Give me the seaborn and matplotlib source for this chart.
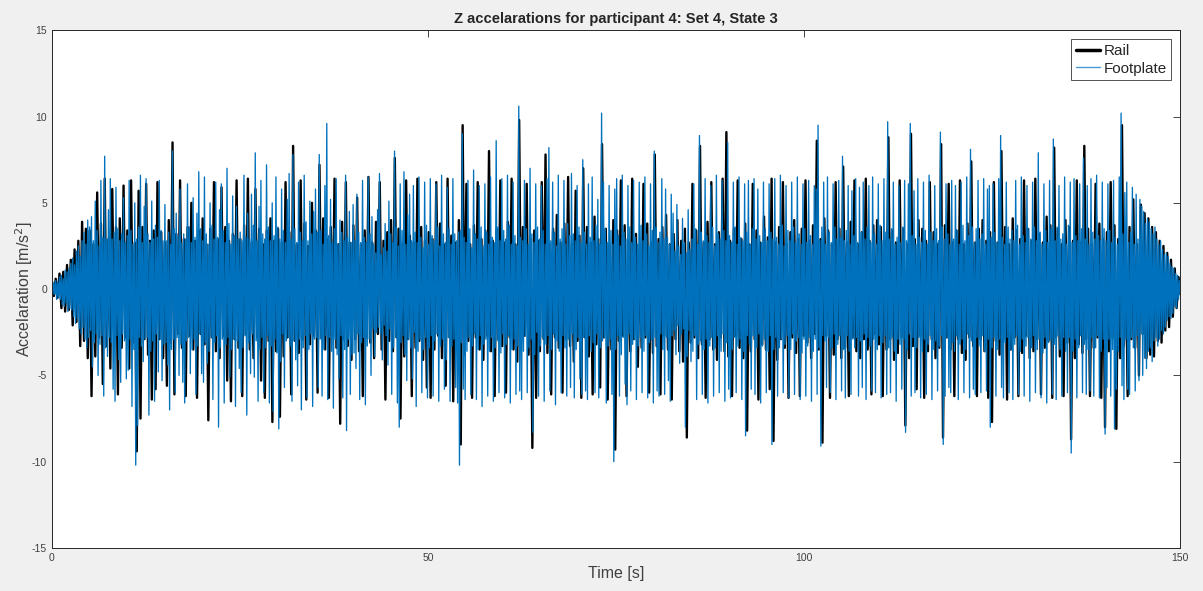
import numpy as np
import matplotlib
matplotlib.use("Agg")
import matplotlib.pyplot as plt
import seaborn as sns

# Rail acceleration, successive half-cycle peaks (m/s^2), 4 per second
rail = [
    0.2, -0.4, 0.6, -0.5, 0.9, -1.1, 1.0, -1.3, 1.4, -1.2, 1.7, -2.1, 2.3, -1.9, 2.8, -3.3, 3.9, -3.0, 3.5, -4.0,
    3.4, -6.2, 2.6, -3.9, 5.6, -2.8, 3.8, -5.5, 6.4, -3.3, 2.9, -4.6, 5.8, -2.7, 3.6, -6.1, 4.1, -3.4, 6.0, -2.8,
    3.4, -4.6, 6.3, -3.1, 2.7, -9.4, 5.7, -7.5, 3.6, -2.9, 6.1, -3.8, 2.8, -6.4, 3.4, -5.8, 6.2, -2.9, 3.3, -4.0,
    2.7, -5.6, 4.0, -3.1, 8.5, -6.1, 3.2, -2.6, 6.3, -3.4, 2.9, -6.2, 3.6, -2.7, 5.0, -3.5, 2.8, -6.3, 3.4, -2.6,
    4.1, -3.2, 2.6, -7.6, 3.5, -2.8, 6.2, -3.6, 2.9, -4.0, 5.9, -2.7, 3.6, -5.3, 2.8, -6.5, 3.2, -2.9, 6.3, -3.4,
    2.9, -6.2, 3.7, -2.6, 6.4, -3.5, 2.7, -4.0, 5.8, -2.8, 3.5, -5.3, 2.6, -6.3, 3.4, -3.0, 4.1, -7.7, 2.8, -3.6,
    3.5, -7.4, 2.7, -3.9, 6.2, -2.8, 3.3, -6.1, 8.3, -3.0, 2.6, -3.7, 6.3, -2.9, 3.8, -6.4, 2.5, -3.2, 5.0, -2.7,
    3.4, -6.0, 7.2, -2.8, 4.1, -3.5, 2.9, -6.3, 3.6, -2.7, 6.4, -3.4, 2.6, -7.8, 3.9, -2.9, 6.2, -3.3, 2.7, -4.1,
    3.7, -2.9, 5.3, -3.6, 2.6, -6.2, 3.4, -2.8, 6.5, -3.1, 2.7, -4.0, 3.9, -2.6, 6.2, -3.5, 2.8, -6.4, 3.3, -3.0,
    4.0, -3.6, 7.6, -2.8, 3.5, -7.5, 2.6, -3.9, 6.3, -2.9, 3.1, -6.2, 2.7, -3.4, 6.4, -3.0, 3.6, -4.1, 2.8, -5.7,
    3.3, -6.3, 2.9, -3.5, 6.2, -2.7, 3.8, -4.0, 2.6, -5.6, 6.4, -2.8, 3.1, -6.5, 2.7, -3.3, 4.0, -9.0, 9.5, -3.8,
    6.1, -3.0, 2.6, -6.3, 3.7, -2.8, 6.2, -3.5, 2.9, -4.1, 3.4, -2.7, 8.0, -3.6, 2.8, -6.2, 3.5, -2.9, 6.3, -3.3,
    2.7, -6.0, 3.9, -2.8, 6.4, -3.5, 2.6, -4.2, 9.8, -3.1, 3.6, -2.7, 6.1, -3.8, 2.9, -9.2, 3.4, -6.3, 2.8, -3.6,
    6.2, -2.9, 7.8, -3.7, 2.6, -6.1, 3.5, -2.8, 4.3, -3.4, 2.7, -6.0, 3.8, -2.9, 6.5, -3.3, 2.6, -4.2, 5.7, -3.0,
    3.1, -6.3, 7.0, -2.8, 3.6, -3.9, 2.7, -6.1, 4.2, -3.2, 2.9, -5.7, 8.4, -2.8, 3.5, -6.4, 2.6, -3.5, 4.0, -9.3,
    3.4, -3.0, 6.3, -2.7, 3.7, -6.2, 2.8, -3.6, 6.4, -2.9, 3.2, -4.5, 2.6, -3.4, 6.1, -2.8, 3.8, -6.0, 2.7, -3.7,
    7.8, -3.3, 2.9, -6.1, 3.6, -2.7, 4.3, -3.5, 2.6, -6.4, 3.2, -2.9, 4.0, -3.6, 2.8, -4.2, 3.5, -8.6, 2.7, -3.1,
    6.1, -2.8, 3.4, -4.0, 8.3, -3.2, 2.7, -6.3, 3.9, -2.9, 6.2, -3.5, 2.6, -4.1, 3.3, -2.8, 6.4, -3.6, 9.1, -3.9,
    2.8, -6.2, 3.5, -2.7, 6.3, -3.4, 2.9, -4.0, 3.8, -8.2, 2.6, -3.6, 6.1, -2.9, 3.4, -6.4, 2.7, -3.2, 4.2, -3.5,
    3.0, -5.8, 6.4, -8.8, 2.7, -4.1, 3.6, -2.9, 6.2, -3.4, 2.6, -6.3, 3.3, -2.8, 4.0, -3.7, 2.9, -6.2, 3.5, -2.7,
    6.3, -3.1, 2.8, -4.0, 3.7, -2.6, 8.6, -3.5, 2.9, -8.9, 4.1, -2.7, 3.4, -6.3, 2.6, -3.8, 6.2, -2.9, 3.5, -4.0,
    7.1, -3.4, 2.7, -6.2, 3.9, -2.8, 6.3, -3.6, 2.6, -4.0, 3.3, -2.9, 6.4, -3.5, 2.8, -6.1, 3.7, -2.6, 4.0, -3.2,
    3.6, -6.2, 2.8, -3.5, 8.8, -2.9, 3.4, -4.1, 2.7, -3.7, 6.3, -2.8, 3.5, -7.9, 2.6, -4.0, 9.0, -3.3, 2.9, -5.8,
    4.0, -2.7, 3.5, -6.3, 2.8, -3.6, 6.2, -2.9, 3.3, -4.0, 2.6, -3.4, 8.4, -8.6, 3.7, -2.8, 6.1, -3.5, 2.7, -6.2,
    3.4, -2.9, 6.3, -3.7, 2.6, -4.1, 3.8, -2.8, 7.4, -3.3, 2.7, -6.2, 3.5, -2.9, 4.0, -3.6, 2.8, -6.3, 3.3, -7.7,
    6.2, -3.0, 2.7, -3.8, 8.0, -2.9, 3.6, -6.4, 2.6, -3.5, 4.1, -2.8, 3.4, -6.2, 2.9, -3.7, 6.3, -2.7, 3.5, -4.0,
    2.8, -3.6, 6.4, -2.9, 3.2, -6.1, 2.7, -3.4, 4.2, -3.0, 3.7, -6.3, 8.2, -2.8, 3.5, -3.9, 2.6, -6.2, 4.0, -3.1,
    3.6, -8.7, 2.8, -4.0, 6.3, -3.2, 2.7, -3.7, 8.3, -2.9, 3.5, -6.2, 2.6, -3.4, 6.1, -2.8, 3.8, -6.3, 2.9, -8.0,
    3.3, -3.6, 6.2, -2.8, 3.7, -8.1, 2.9, -4.0, 9.5, -3.3, 2.7, -6.2, 3.6, -2.9, 5.2, -3.4, 2.6, -5.0, 4.9, -2.6,
    4.4, -4.0, 4.1, -3.8, 3.6, -3.9, 3.3, -3.0, 2.8, -3.1, 2.5, -2.4, 2.1, -2.2, 1.7, -1.6, 1.2, -1.1, 0.7, -0.3,
]

# Footplate acceleration, successive half-cycle peaks (m/s^2), 8 per second
footplate = [
    0.2, -0.3, 0.4, -0.3, 0.5, -0.6, 0.4, -0.5, 0.7, -0.6, 0.8, -0.9, 0.6, -1.0, 1.1, -0.8, 1.0, -1.3, 1.2, -1.1,
    1.5, -1.2, 1.8, -1.6, 1.4, -2.0, 2.2, -1.7, 2.5, -2.3, 1.9, -2.6, 2.8, -2.2, 3.3, -2.9, 2.6, -3.4, 4.0, -2.8,
    3.6, -2.4, 4.2, -4.5, 2.8, -3.1, 5.1, -2.6, 3.4, -5.0, 2.5, -3.2, 6.3, -2.7, 3.0, -6.2, 7.7, -3.4, 2.9, -3.9,
    4.6, -2.8, 6.4, -3.1, 2.9, -5.8, 3.3, -6.5, 5.9, -2.7, 3.5, -4.1, 2.8, -5.4, 3.2, -2.6, 5.3, -3.0, 2.7, -5.2,
    3.1, -4.7, 6.3, -2.9, 3.4, -6.8, 2.6, -3.5, 5.0, -10.2, 2.9, -7.9, 3.6, -2.8, 6.6, -3.3, 2.7, -4.2, 4.8, -2.9,
    6.4, -2.8, 3.2, -7.3, 2.7, -3.6, 5.1, -3.0, 2.9, -6.5, 3.7, -2.6, 3.0, -4.8, 6.3, -2.9, 3.4, -5.3, 2.8, -3.2,
    4.9, -3.1, 2.8, -4.4, 3.3, -7.0, 2.6, -3.5, 8.0, -2.9, 3.5, -6.0, 4.4, -2.8, 3.1, -5.0, 5.8, -3.2, 2.7, -5.4,
    3.2, -6.6, 2.9, -3.0, 6.1, -2.8, 3.6, -4.9, 2.7, -3.5, 5.3, -2.9, 3.0, -6.1, 4.4, -3.3, 6.8, -2.6, 3.5, -4.9,
    2.8, -5.4, 6.5, -3.1, 3.2, -4.3, 2.6, -3.6, 5.0, -2.8, 3.7, -6.4, 2.9, -3.1, 6.2, -2.7, 3.0, -8.0, 4.6, -3.4,
    6.1, -2.9, 3.4, -6.6, 2.7, -3.2, 7.0, -2.8, 3.8, -5.1, 2.6, -3.5, 5.4, -2.9, 3.1, -6.8, 4.8, -3.0, 2.9, -4.6,
    3.3, -6.0, 2.8, -3.4, 6.6, -2.7, 3.0, -7.3, 4.4, -3.1, 2.9, -4.9, 5.5, -2.6, 3.7, -5.1, 7.9, -3.0, 2.8, -6.5,
    4.8, -3.5, 6.3, -2.8, 3.2, -6.0, 2.9, -3.4, 7.2, -2.7, 3.6, -6.6, 2.8, -3.3, 5.0, -7.1, 3.1, -2.9, 6.5, -3.7,
    3.6, -8.1, 2.9, -4.2, 5.8, -2.6, 3.4, -5.7, 2.7, -3.0, 5.2, -2.8, 6.7, -3.3, 2.9, -6.5, 7.8, -3.0, 3.5, -4.1,
    2.7, -5.6, 6.2, -2.9, 3.3, -7.0, 2.8, -3.4, 6.6, -2.7, 3.9, -6.3, 2.8, -3.5, 5.1, -2.6, 3.2, -6.8, 4.5, -2.9,
    5.8, -2.8, 3.3, -5.7, 7.8, -2.9, 3.4, -6.2, 2.6, -3.5, 6.0, -2.7, 9.6, -6.4, 3.1, -2.8, 5.2, -3.6, 2.7, -6.9,
    3.5, -2.9, 6.4, -3.8, 2.6, -5.2, 4.0, -2.7, 3.3, -6.3, 2.8, -3.5, 6.6, -8.2, 3.0, -2.9, 4.5, -6.1, 2.7, -3.8,
    4.9, -3.7, 2.8, -4.6, 5.5, -2.6, 3.3, -6.4, 2.7, -3.1, 6.3, -2.8, 3.0, -6.7, 2.7, -3.3, 6.5, -2.9, 3.2, -5.0,
    4.2, -2.3, 2.6, -3.9, 2.1, -2.5, 4.6, -2.2, 6.7, -2.6, 2.0, -4.1, 2.4, -2.1, 3.8, -2.7, 2.2, -4.4, 5.1, -2.3,
    3.2, -6.1, 2.7, -3.4, 8.0, -2.8, 3.6, -6.6, 2.5, -8.0, 6.1, -3.1, 3.4, -2.7, 6.8, -3.8, 2.6, -5.3, 4.3, -2.9,
    5.5, -3.4, 2.8, -5.2, 6.0, -2.5, 3.3, -6.8, 2.7, -3.6, 6.5, -2.9, 3.0, -6.0, 2.4, -3.5, 6.2, -2.8, 3.7, -6.3,
    2.6, -3.4, 6.4, -2.7, 3.1, -6.2, 2.8, -3.0, 6.1, -2.6, 3.6, -6.5, 2.5, -3.3, 6.6, -2.9, 3.2, -5.8, 2.7, -4.1,
    5.9, -2.8, 3.5, -6.5, 2.6, -3.3, 6.4, -2.9, 3.2, -5.7, 2.8, -6.6, 3.3, -10.2, 3.4, -3.1, 9.0, -5.8, 3.0, -6.4,
    2.7, -3.6, 6.3, -2.8, 3.5, -6.1, 2.4, -3.3, 6.9, -2.6, 3.2, -6.4, 2.9, -3.5, 6.0, -2.7, 3.6, -6.8, 2.5, -3.2,
    6.1, -2.9, 3.3, -6.2, 2.6, -3.6, 6.5, -2.8, 3.0, -6.5, 2.7, -3.4, 8.6, -3.0, 3.6, -6.0, 2.8, -3.7, 6.4, -2.6,
    3.4, -6.3, 2.9, -3.2, 6.6, -2.7, 3.7, -6.6, 2.6, -3.5, 6.2, -2.9, 3.1, -6.1, 2.5, -3.3, 10.6, -5.9, 3.0, -6.4,
    2.8, -3.6, 6.3, -2.7, 3.5, -6.0, 2.6, -3.4, 7.0, -2.9, 3.2, -8.3, 2.7, -3.8, 6.1, -2.5, 3.6, -6.2, 2.9, -3.3,
    6.0, -2.8, 3.4, -6.5, 2.6, -3.2, 6.4, -2.7, 8.2, -5.9, 2.8, -3.5, 6.2, -2.6, 3.3, -6.7, 2.5, -3.0, 6.6, -3.6,
    2.9, -6.0, 3.5, -2.7, 6.3, -3.4, 2.6, -6.2, 3.8, -2.9, 3.1, -5.7, 6.7, -2.6, 3.2, -6.3, 2.8, -3.5, 6.0, -2.8,
    3.6, -5.2, 2.7, -6.1, 7.5, -2.8, 3.3, -5.9, 2.6, -6.4, 6.1, -2.7, 3.0, -3.6, 6.5, -3.1, 2.8, -6.0, 3.7, -2.6,
    5.2, -6.3, 2.6, -3.4, 10.2, -3.0, 6.2, -2.8, 3.5, -6.6, 2.7, -3.3, 6.0, -2.9, 3.4, -6.1, 2.6, -10.0, 5.8, -3.5,
    6.4, -2.7, 3.1, -6.2, 2.5, -3.8, 6.6, -2.8, 3.3, -5.5, 2.9, -6.7, 6.0, -2.6, 3.6, -5.9, 2.7, -3.2, 6.3, -2.9,
    3.0, -6.4, 2.6, -3.3, 6.2, -2.8, 3.7, -6.0, 2.8, -3.6, 6.5, -2.7, 3.2, -6.3, 2.5, -3.1, 6.1, -2.9, 3.4, -6.6,
    8.0, -2.8, 3.6, -5.9, 2.7, -6.2, 3.3, -2.6, 6.4, -3.5, 2.9, -6.1, 5.8, -2.8, 3.0, -5.3, 2.6, -6.5, 5.5, -2.7,
    4.4, -2.4, 2.2, -3.8, 4.9, -2.1, 2.5, -4.3, 2.0, -2.6, 4.1, -2.3, 2.7, -8.0, 2.1, -3.9, 4.6, -2.4, 2.3, -4.2,
    2.9, -3.6, 6.1, -2.7, 3.5, -6.4, 2.6, -3.2, 8.9, -3.0, 3.3, -6.1, 2.8, -3.5, 6.4, -2.9, 3.1, -6.6, 2.7, -3.3,
    6.0, -2.8, 3.6, -6.2, 2.5, -3.4, 6.6, -2.7, 3.2, -6.0, 2.9, -3.6, 6.3, -2.6, 3.4, -6.5, 2.8, -3.1, 8.5, -5.8,
    3.1, -6.3, 2.7, -3.5, 6.2, -2.8, 3.6, -6.0, 2.6, -3.3, 6.5, -2.9, 3.0, -6.4, 2.8, -3.6, 6.1, -8.5, 3.3, -2.7,
    6.3, -3.2, 2.6, -5.8, 3.5, -2.7, 6.4, -6.1, 2.9, -3.4, 5.8, -2.6, 3.1, -6.6, 2.7, -3.3, 6.2, -2.9, 3.5, -6.0,
    2.8, -3.6, 6.1, -2.7, 3.3, -9.0, 2.9, -3.5, 6.4, -2.8, 3.0, -6.2, 2.6, -3.4, 6.6, -2.9, 3.7, -6.0, 2.5, -3.2,
    6.0, -2.7, 3.4, -6.3, 2.8, -3.5, 6.2, -2.6, 3.6, -6.1, 2.7, -3.0, 6.5, -2.8, 3.2, -6.4, 2.6, -3.7, 6.1, -2.9,
    3.5, -6.2, 2.7, -3.3, 6.3, -2.8, 3.1, -6.5, 2.6, -3.6, 6.0, -2.9, 5.8, -6.1, 9.5, -3.4, 2.8, -9.1, 3.6, -2.7,
    6.2, -3.0, 2.6, -5.7, 6.5, -2.8, 3.3, -6.0, 2.7, -3.4, 6.1, -2.6, 3.6, -6.4, 2.9, -3.2, 6.3, -2.7, 3.0, -5.9,
    7.7, -3.5, 2.8, -6.3, 3.4, -2.7, 6.0, -3.6, 2.6, -6.1, 5.7, -2.9, 3.1, -3.4, 6.4, -2.8, 2.7, -6.2, 5.9, -3.0,
    3.3, -5.7, 6.2, -2.6, 2.9, -6.4, 3.6, -2.8, 6.0, -3.3, 2.7, -5.9, 6.5, -2.9, 3.2, -6.0, 2.6, -3.5, 6.1, -2.7,
    3.7, -6.3, 2.8, -3.1, 6.4, -2.7, 3.3, -6.1, 9.7, -3.4, 2.9, -6.0, 3.5, -2.8, 6.2, -3.6, 2.6, -6.5, 3.0, -2.9,
    6.0, -3.2, 2.7, -5.8, 3.6, -2.9, 6.3, -8.3, 2.8, -3.5, 6.1, -2.6, 9.6, -6.2, 3.1, -2.8, 5.7, -6.0, 2.6, -3.4,
    6.4, -2.8, 3.0, -6.3, 2.7, -3.6, 6.2, -2.9, 3.4, -6.1, 2.6, -3.2, 6.6, -2.7, 3.3, -6.4, 2.8, -3.5, 6.0, -3.0,
    3.5, -5.9, 2.8, -3.3, 9.1, -2.7, 3.6, -9.0, 2.9, -6.2, 6.1, -2.8, 3.2, -5.7, 2.6, -6.0, 6.3, -3.1, 2.9, -3.6,
    6.0, -2.7, 3.4, -6.4, 2.6, -3.2, 6.2, -2.9, 3.7, -6.0, 2.8, -3.5, 6.5, -2.6, 3.1, -6.3, 8.1, -3.0, 3.6, -5.8,
    2.7, -6.1, 3.5, -2.8, 6.3, -3.3, 2.9, -6.0, 3.2, -2.7, 6.4, -3.6, 2.6, -5.9, 5.8, -2.9, 6.0, -8.0, 3.0, -3.4,
    6.1, -2.8, 3.3, -6.2, 2.7, -3.5, 6.4, -2.9, 8.9, -5.7, 3.0, -6.3, 2.6, -3.1, 6.2, -2.8, 3.6, -6.0, 2.9, -3.5,
    3.4, -6.4, 2.8, -3.2, 6.3, -2.7, 3.7, -6.1, 2.6, -3.6, 6.5, -2.9, 3.1, -6.2, 2.7, -3.3, 6.0, -2.8, 3.5, -6.5,
    2.9, -3.4, 6.2, -2.7, 3.6, -6.0, 2.8, -3.5, 7.9, -2.9, 3.3, -6.3, 2.6, -3.7, 6.1, -2.8, 3.4, -6.6, 2.7, -3.1,
    6.3, -2.9, 3.5, -6.1, 8.7, -3.2, 2.8, -6.4, 3.6, -2.7, 6.0, -3.5, 2.9, -6.2, 3.2, -2.8, 6.5, -3.6, 2.6, -6.0,
    3.7, -2.8, 6.2, -9.5, 2.7, -3.6, 6.4, -2.9, 3.1, -6.3, 2.8, -3.4, 6.1, -2.7, 3.5, -6.0, 7.6, -3.2, 2.9, -6.1,
    6.0, -3.5, 2.6, -5.9, 6.4, -2.8, 3.3, -6.2, 2.9, -3.4, 6.6, -2.7, 3.1, -6.3, 2.8, -3.6, 6.2, -2.9, 3.5, -8.4,
    2.8, -5.7, 6.1, -2.9, 3.4, -6.2, 2.7, -3.5, 6.3, -8.1, 3.0, -5.8, 2.6, -3.6, 6.5, -2.8, 10.2, -5.6, 3.2, -6.4,
    5.6, -2.9, 6.2, -5.8, 2.7, -6.1, 3.3, -2.8, 5.9, -3.4, 2.6, -5.9, 5.5, -2.7, 2.9, -5.3, 5.2, -2.6, 4.8, -5.0,
    4.5, -4.0, 3.8, -4.6, 4.1, -3.6, 3.9, -3.4, 3.5, -4.2, 3.2, -3.0, 3.6, -2.8, 2.9, -3.3, 2.6, -2.9, 2.8, -2.4,
    2.3, -2.6, 2.0, -2.2, 2.1, -1.8, 1.9, -1.6, 1.5, -1.7, 1.3, -1.4, 1.2, -1.0, 0.9, -1.1, 0.8, -0.6, 0.5, -0.3,
]

t_rail = np.linspace(0, 150, len(rail))
t_foot = np.linspace(0, 150, len(footplate))

sns.set_style("white")
plt.rcParams["font.family"] = ["Liberation Sans", "DejaVu Sans"]
plt.rcParams["axes.unicode_minus"] = False

fig = plt.figure(figsize=(12.03, 5.91), dpi=100)
fig.patch.set_facecolor("#f0f0f0")
ax = fig.add_axes([0.0432, 0.0728, 0.938, 0.876])
ax.set_facecolor("white")

sns.lineplot(x=t_rail, y=rail, ax=ax, color="black", linewidth=1.7,
             label="Rail", sort=False, estimator=None)
sns.lineplot(x=t_foot, y=footplate, ax=ax, color="#0072BD", linewidth=0.95,
             label="Footplate", sort=False, estimator=None)

ax.set_xlim(0, 150)
ax.set_ylim(-15, 15)
ax.set_xticks([0, 50, 100, 150])
ax.set_yticks([-15, -10, -5, 0, 5, 10, 15])
ax.tick_params(direction="in", length=5, width=0.6, colors="#262626",
               labelsize=7.5, top=True, right=True, labelcolor="#404040")

for s in ax.spines.values():
    s.set_color("#262626")
    s.set_linewidth(0.7)

ax.set_title("Z accelarations for participant 4: Set 4, State 3",
             fontsize=10.6, fontweight="bold", pad=5)
ax.set_xlabel("Time [s]", fontsize=11.5, color="#404040", labelpad=2)
ax.set_ylabel("Accelaration [m/s$^2$]", fontsize=11.5, color="#404040", labelpad=-2)

leg = ax.legend(loc="upper right", fontsize=11, frameon=True, fancybox=False,
                edgecolor="#262626", handlelength=1.6, handletextpad=0.2,
                borderpad=0.3, labelspacing=0.25, borderaxespad=0.6)
leg.get_frame().set_linewidth(0.7)
leg.get_lines()[0].set_linewidth(2.5)
leg.get_lines()[1].set_linewidth(1.0)
leg.get_lines()[1].set_color("#4a9ad6")

fig.savefig("out.png", dpi=100, facecolor=fig.get_facecolor())
